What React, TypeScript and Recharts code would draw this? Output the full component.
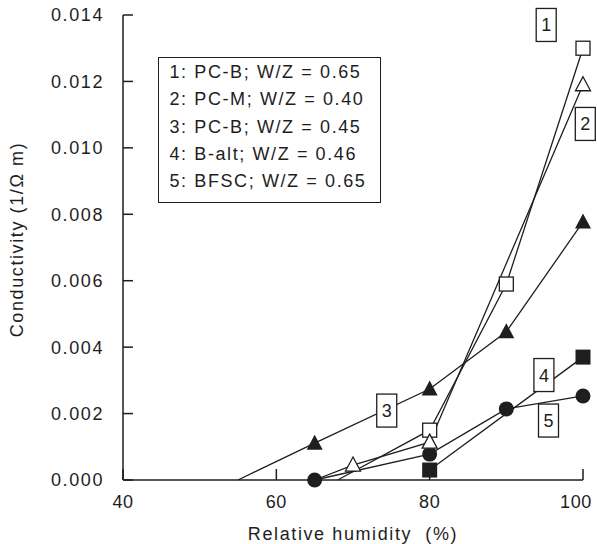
import { ComposedChart, Line, Scatter, XAxis, YAxis, ReferenceDot } from "recharts";

const FONT = '"Liberation Sans", Arial, Helvetica, sans-serif';
const INK = "#1e1e1e";

const RH_TICKS = [40, 60, 80, 100];
const COND_TICKS = [0, 0.002, 0.004, 0.006, 0.008, 0.01, 0.012, 0.014];

// measured points, x = relative humidity (%), y = conductivity (1/Ωm)
const S1_RH = [80, 90, 100];
const S1_COND = [0.0015, 0.0059, 0.013];
const S2_RH = [70, 80, 100];
const S2_COND = [0.00045, 0.00114, 0.0119];
const S3_RH = [65, 80, 90, 100];
const S3_COND = [0.00111, 0.00274, 0.00446, 0.00777];
const S4_RH = [80, 100];
const S4_COND = [0.0003, 0.0037];
const S5_RH = [65, 80, 90, 100];
const S5_COND = [0, 0.00078, 0.00214, 0.00253];

// where the drawn line of a series starts on the zero line (no marker there)
const S1_ZERO_RH = 68;
const S2_ZERO_RH = 65;
const S3_ZERO_RH = 55;

const LEGEND_LINES = [
  "1: PC-B; W/Z = 0.65",
  "2: PC-M; W/Z = 0.40",
  "3: PC-B; W/Z = 0.45",
  "4: B-alt; W/Z = 0.46",
  "5: BFSC; W/Z = 0.65",
];

// numbered call-outs next to the curves
const TAG_NAMES = ["1", "2", "3", "4", "5"];
const TAG_RH = [95.2, 100.3, 74.4, 94.9, 95.5];
const TAG_COND = [0.0137, 0.01072, 0.00209, 0.00316, 0.00179];

const pts = (xs: number[], ys: number[]) => xs.map((x, i) => ({ x, y: ys[i] }));
const withZero = (x0: number | null, xs: number[], ys: number[]) =>
  x0 == null ? pts(xs, ys) : [{ x: x0, y: 0 }, ...pts(xs, ys)];

const s1 = pts(S1_RH, S1_COND);
const s2 = pts(S2_RH, S2_COND);
const s3 = pts(S3_RH, S3_COND);
const s4 = pts(S4_RH, S4_COND);
const s5 = pts(S5_RH, S5_COND);

const textStyle = { fill: INK, fontSize: 18, fontFamily: FONT, letterSpacing: 1.6 };

const OpenSquare = ({ cx, cy }: any) => (
  <rect x={cx - 7} y={cy - 7} width={14} height={14} fill="#fff" stroke={INK} strokeWidth={1.3} />
);
const FilledSquare = ({ cx, cy }: any) => (
  <rect x={cx - 7.5} y={cy - 7.5} width={15} height={15} fill={INK} />
);
const OpenTriangle = ({ cx, cy }: any) => (
  <path
    d={`M${cx},${cy - 8} L${cx + 7.5},${cy + 6} L${cx - 7.5},${cy + 6} Z`}
    fill="#fff"
    stroke={INK}
    strokeWidth={1.3}
  />
);
const FilledTriangle = ({ cx, cy }: any) => (
  <path d={`M${cx},${cy - 8.5} L${cx + 8},${cy + 6.5} L${cx - 8},${cy + 6.5} Z`} fill={INK} />
);
const FilledCircle = ({ cx, cy }: any) => <circle cx={cx} cy={cy} r={7.5} fill={INK} />;

const Tag = ({ cx, cy, name }: any) => (
  <g>
    <rect x={cx - 10} y={cy - 16.5} width={20} height={33} fill="#fff" stroke={INK} strokeWidth={1.3} />
    <text x={cx} y={cy + 6.5} textAnchor="middle" fontSize={18} fontFamily={FONT} fill={INK}>
      {name}
    </text>
  </g>
);

// the last label sits a little inside the frame, as in the original
const RhTick = ({ x, y, payload }: any) => (
  <text
    x={x}
    y={y}
    dx={payload.value === 100 ? -7 : 0}
    dy="0.71em"
    textAnchor="middle"
    fill={INK}
    fontSize={18}
    fontFamily={FONT}
    letterSpacing={0.6}
  >
    {payload.value}
  </text>
);

const YTitle = ({ viewBox }: any) => {
  const x = viewBox.x + 17;
  const y = viewBox.y + viewBox.height / 2 - 8;
  return (
    <text
      x={x}
      y={y}
      transform={`rotate(-90, ${x}, ${y})`}
      textAnchor="middle"
      dominantBaseline="central"
      {...textStyle}
    >
      Conductivity (1/Ω m)
    </text>
  );
};

export default function App() {
  const lineProps = {
    dataKey: "y",
    stroke: INK,
    strokeWidth: 1.3,
    dot: false,
    activeDot: false,
    isAnimationActive: false,
    type: "linear" as const,
  };

  return (
    <div style={{ position: "absolute", left: 0, top: 0, width: 597, height: 544, background: "#fff" }}>
      <ComposedChart width={597} height={544} margin={{ top: 15, right: 14, bottom: 0, left: 0 }}>
        <XAxis
          type="number"
          dataKey="x"
          domain={[40, 100]}
          ticks={RH_TICKS}
          height={64}
          tickSize={-11}
          tickMargin={26}
          axisLine={{ stroke: INK, strokeWidth: 1.5 }}
          tickLine={{ stroke: INK, strokeWidth: 1.5 }}
          tick={RhTick}
          label={{ value: "Relative humidity\u00a0 (%)", position: "insideBottom", offset: 4.5, ...textStyle }}
        />
        <YAxis
          type="number"
          dataKey="y"
          domain={[0, 0.014]}
          ticks={COND_TICKS}
          width={123}
          tickSize={-10}
          tickMargin={29}
          tickFormatter={(v: number) => v.toFixed(3)}
          axisLine={{ stroke: INK, strokeWidth: 1.5 }}
          tickLine={{ stroke: INK, strokeWidth: 1.5 }}
          tick={textStyle}
          label={{ content: (p: any) => <YTitle viewBox={p.viewBox} /> }}
        />

        <Line {...lineProps} data={withZero(null, S5_RH, S5_COND)} />
        <Line {...lineProps} data={withZero(null, S4_RH, S4_COND)} />
        <Line {...lineProps} data={withZero(S3_ZERO_RH, S3_RH, S3_COND)} />
        <Line {...lineProps} data={withZero(S2_ZERO_RH, S2_RH, S2_COND)} />
        <Line {...lineProps} data={withZero(S1_ZERO_RH, S1_RH, S1_COND)} />

        <Scatter data={s4} shape={FilledSquare} isAnimationActive={false} />
        <Scatter data={s5} shape={FilledCircle} isAnimationActive={false} />
        <Scatter data={s3} shape={FilledTriangle} isAnimationActive={false} />
        <Scatter data={s1} shape={OpenSquare} isAnimationActive={false} />
        <Scatter data={s2} shape={OpenTriangle} isAnimationActive={false} />

        {TAG_NAMES.map((name, i) => (
          <ReferenceDot
            key={name}
            x={TAG_RH[i]}
            y={TAG_COND[i]}
            ifOverflow="visible"
            shape={(p: any) => <Tag cx={p.cx} cy={p.cy} name={name} />}
          />
        ))}
      </ComposedChart>

      <div
        style={{
          position: "absolute",
          left: 158,
          top: 57,
          width: 223,
          height: 146,
          boxSizing: "border-box",
          border: `1.5px solid ${INK}`,
          background: "#fff",
          padding: "1px 0 0 10.5px",
          fontFamily: FONT,
          fontSize: 18,
          letterSpacing: 1.6,
          lineHeight: "27.3px",
          color: INK,
          whiteSpace: "nowrap",
        }}
      >
        {LEGEND_LINES.map((t) => (
          <div key={t}>{t}</div>
        ))}
      </div>
    </div>
  );
}
